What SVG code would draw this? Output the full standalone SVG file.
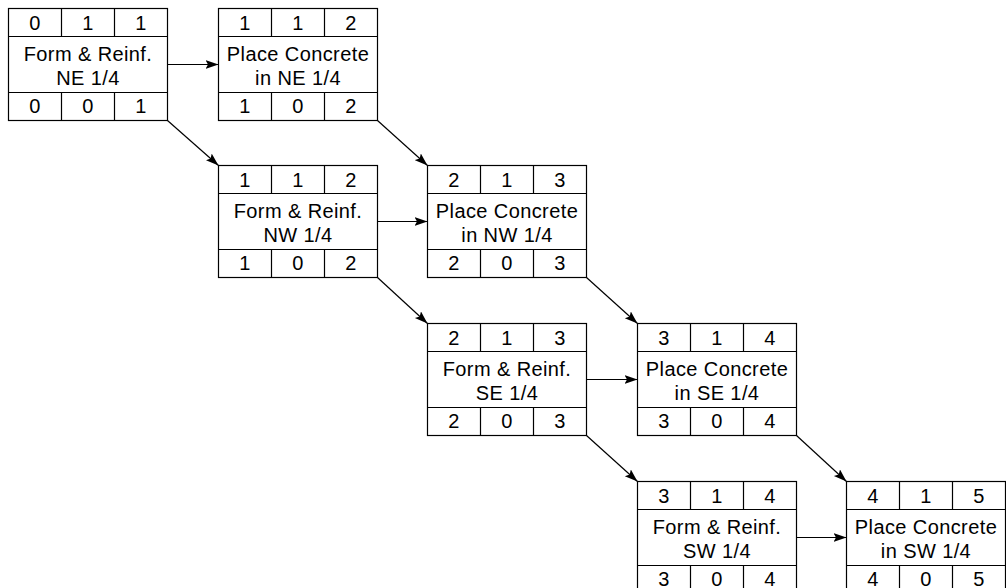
<svg xmlns="http://www.w3.org/2000/svg" width="1006" height="588" viewBox="0 0 1006 588">
<style>
.box{fill:#fff;stroke:#000;stroke-width:1.2}
.ln{stroke:#000;stroke-width:1.2;fill:none}
.t{font-family:"Liberation Sans",Arial,sans-serif;font-size:20px;letter-spacing:0.4px;text-anchor:middle;fill:#000}
.c{stroke:#000;stroke-width:1.2;fill:none;marker-end:url(#ah)}
</style>
<defs>
<marker id="ah" markerUnits="userSpaceOnUse" markerWidth="14" markerHeight="10" refX="13" refY="4.5" orient="auto">
<path d="M0,0 L13,4.5 L0,9 L2.5,4.5 Z" fill="#000"/>
</marker>
</defs>
<g id="connectors">
<line class="c" x1="167.5" y1="64.5" x2="218.5" y2="64.5"/>
<line class="c" x1="167.5" y1="120.5" x2="218.5" y2="165.5"/>
<line class="c" x1="377.5" y1="120.5" x2="427.5" y2="165.5"/>
<line class="c" x1="377.5" y1="221.5" x2="427.5" y2="221.5"/>
<line class="c" x1="377.5" y1="277.5" x2="427.5" y2="323.5"/>
<line class="c" x1="586.5" y1="277.5" x2="637.5" y2="323.5"/>
<line class="c" x1="586.5" y1="379.5" x2="637.5" y2="379.5"/>
<line class="c" x1="586.5" y1="435.5" x2="637.5" y2="481.5"/>
<line class="c" x1="796.5" y1="435.5" x2="846.5" y2="481.5"/>
<line class="c" x1="796.5" y1="537.5" x2="846.5" y2="537.5"/>
</g>
<g id="form-ne" transform="translate(8.5,8.5)">
<rect class="box" width="159" height="112"/>
<path class="ln" d="M0,28H159M0,84H159M53,0V28M106,0V28M53,84V112M106,84V112"/>
<text class="t" x="26.5" y="21.5">0</text><text class="t" x="79.5" y="21.5">1</text><text class="t" x="132.5" y="21.5">1</text>
<text class="t" x="79.5" y="52.5">Form &amp; Reinf.</text><text class="t" x="79.5" y="76">NE 1/4</text>
<text class="t" x="26.5" y="104">0</text><text class="t" x="79.5" y="104">0</text><text class="t" x="132.5" y="104">1</text>
</g>
<g id="place-ne" transform="translate(218.5,8.5)">
<rect class="box" width="159" height="112"/>
<path class="ln" d="M0,28H159M0,84H159M53,0V28M106,0V28M53,84V112M106,84V112"/>
<text class="t" x="26.5" y="21.5">1</text><text class="t" x="79.5" y="21.5">1</text><text class="t" x="132.5" y="21.5">2</text>
<text class="t" x="79.5" y="52.5">Place Concrete</text><text class="t" x="79.5" y="76">in NE 1/4</text>
<text class="t" x="26.5" y="104">1</text><text class="t" x="79.5" y="104">0</text><text class="t" x="132.5" y="104">2</text>
</g>
<g id="form-nw" transform="translate(218.5,165.5)">
<rect class="box" width="159" height="112"/>
<path class="ln" d="M0,28H159M0,84H159M53,0V28M106,0V28M53,84V112M106,84V112"/>
<text class="t" x="26.5" y="21.5">1</text><text class="t" x="79.5" y="21.5">1</text><text class="t" x="132.5" y="21.5">2</text>
<text class="t" x="79.5" y="52.5">Form &amp; Reinf.</text><text class="t" x="79.5" y="76">NW 1/4</text>
<text class="t" x="26.5" y="104">1</text><text class="t" x="79.5" y="104">0</text><text class="t" x="132.5" y="104">2</text>
</g>
<g id="place-nw" transform="translate(427.5,165.5)">
<rect class="box" width="159" height="112"/>
<path class="ln" d="M0,28H159M0,84H159M53,0V28M106,0V28M53,84V112M106,84V112"/>
<text class="t" x="26.5" y="21.5">2</text><text class="t" x="79.5" y="21.5">1</text><text class="t" x="132.5" y="21.5">3</text>
<text class="t" x="79.5" y="52.5">Place Concrete</text><text class="t" x="79.5" y="76">in NW 1/4</text>
<text class="t" x="26.5" y="104">2</text><text class="t" x="79.5" y="104">0</text><text class="t" x="132.5" y="104">3</text>
</g>
<g id="form-se" transform="translate(427.5,323.5)">
<rect class="box" width="159" height="112"/>
<path class="ln" d="M0,28H159M0,84H159M53,0V28M106,0V28M53,84V112M106,84V112"/>
<text class="t" x="26.5" y="21.5">2</text><text class="t" x="79.5" y="21.5">1</text><text class="t" x="132.5" y="21.5">3</text>
<text class="t" x="79.5" y="52.5">Form &amp; Reinf.</text><text class="t" x="79.5" y="76">SE 1/4</text>
<text class="t" x="26.5" y="104">2</text><text class="t" x="79.5" y="104">0</text><text class="t" x="132.5" y="104">3</text>
</g>
<g id="place-se" transform="translate(637.5,323.5)">
<rect class="box" width="159" height="112"/>
<path class="ln" d="M0,28H159M0,84H159M53,0V28M106,0V28M53,84V112M106,84V112"/>
<text class="t" x="26.5" y="21.5">3</text><text class="t" x="79.5" y="21.5">1</text><text class="t" x="132.5" y="21.5">4</text>
<text class="t" x="79.5" y="52.5">Place Concrete</text><text class="t" x="79.5" y="76">in SE 1/4</text>
<text class="t" x="26.5" y="104">3</text><text class="t" x="79.5" y="104">0</text><text class="t" x="132.5" y="104">4</text>
</g>
<g id="form-sw" transform="translate(637.5,481.5)">
<rect class="box" width="159" height="112"/>
<path class="ln" d="M0,28H159M0,84H159M53,0V28M106,0V28M53,84V112M106,84V112"/>
<text class="t" x="26.5" y="21.5">3</text><text class="t" x="79.5" y="21.5">1</text><text class="t" x="132.5" y="21.5">4</text>
<text class="t" x="79.5" y="52.5">Form &amp; Reinf.</text><text class="t" x="79.5" y="76">SW 1/4</text>
<text class="t" x="26.5" y="104">3</text><text class="t" x="79.5" y="104">0</text><text class="t" x="132.5" y="104">4</text>
</g>
<g id="place-sw" transform="translate(846.5,481.5)">
<rect class="box" width="159" height="112"/>
<path class="ln" d="M0,28H159M0,84H159M53,0V28M106,0V28M53,84V112M106,84V112"/>
<text class="t" x="26.5" y="21.5">4</text><text class="t" x="79.5" y="21.5">1</text><text class="t" x="132.5" y="21.5">5</text>
<text class="t" x="79.5" y="52.5">Place Concrete</text><text class="t" x="79.5" y="76">in SW 1/4</text>
<text class="t" x="26.5" y="104">4</text><text class="t" x="79.5" y="104">0</text><text class="t" x="132.5" y="104">5</text>
</g>
</svg>
